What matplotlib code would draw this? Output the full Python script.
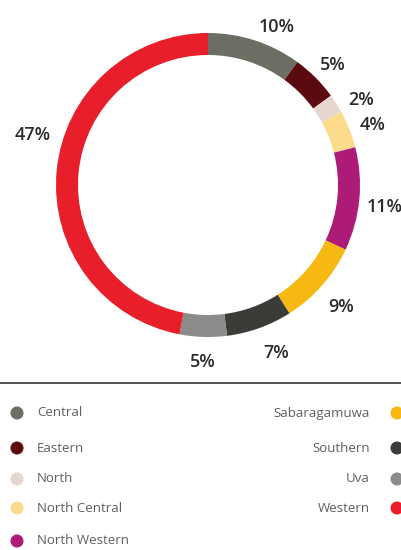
import numpy as np
import matplotlib
matplotlib.use("Agg")
import matplotlib.pyplot as plt

regions = ["Central", "Eastern", "North", "North Central", "North Western",
           "Sabaragamuwa", "Southern", "Uva", "Western"]
shares = [10, 5, 2, 4, 11, 9, 7, 5, 47]
colors = ["#6b6e62", "#5b0b10", "#e6d6d0", "#fcdc8c", "#ad1a78",
          "#f6b912", "#3b3b37", "#8b8b8b", "#e81f2b"]
pct_labels = [f"{v}%" for v in shares]

W, H = 402, 550
fig = plt.figure(figsize=(W / 100, H / 100), dpi=100)
ax = fig.add_axes([0, 0, 1, 1])

cx, cy, R = 208, H - 185, 152
wedges, _ = ax.pie(shares, colors=colors, startangle=90, counterclock=False,
                   radius=R, center=(cx, cy), frame=True,
                   wedgeprops=dict(width=22, edgecolor="none"))
ax.set_xlim(0, W)
ax.set_ylim(0, H)
ax.set_aspect("equal")
ax.axis("off")

angle_nudge = {0: -5, 2: -2, 6: 3, 8: -12}
lab_r = {7: 172, 8: 184}
for i, w in enumerate(wedges):
    ang = (w.theta1 + w.theta2) / 2 + angle_nudge.get(i, 0)
    r = lab_r.get(i, 177)
    x = cx + r * np.cos(np.radians(ang))
    y = cy + r * np.sin(np.radians(ang)) - 5
    ax.text(x, y, pct_labels[i], ha="center", va="center", fontsize=13,
            fontweight="semibold", color="#2b2b2e", family="Open Sans")

# divider
ax.plot([0, W], [H - 383, H - 383], color="#444444", lw=1.3)

# legend
left_rows = [413, 448, 479, 508, 541]
right_rows = [413, 448, 479, 508]
for i in range(9):
    if i < 5:
        y = H - left_rows[i]
        ax.scatter([17], [y], s=88, color=colors[i], edgecolor="none")
        ax.text(37, y, regions[i], ha="left", va="center", fontsize=9.5,
                color="#5f5f5f", family="Open Sans")
    else:
        y = H - right_rows[i - 5]
        ax.scatter([397], [y], s=88, color=colors[i], edgecolor="none")
        ax.text(370, y, regions[i], ha="right", va="center", fontsize=9.5,
                color="#5f5f5f", family="Open Sans")

fig.savefig("out.png", dpi=100)
